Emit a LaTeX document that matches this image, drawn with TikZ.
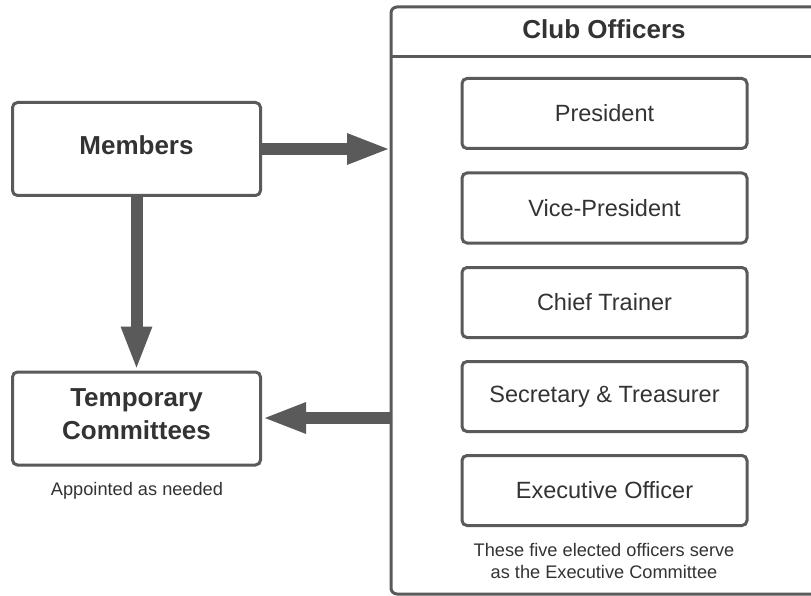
\documentclass[tikz,border=0pt]{standalone}
\usepackage{fontspec}
\setmainfont{Liberation Sans}
\usetikzlibrary{arrows.meta}
\definecolor{linegray}{HTML}{5A5A5A}
\definecolor{txt}{HTML}{333333}
\tikzset{
  box/.style={draw=linegray, line width=3pt, rounded corners=5pt, fill=white, inner sep=0pt, text=txt},
  officer/.style={box, minimum width=285pt, minimum height=70pt, font=\fontsize{23.5}{28}\selectfont},
  sidebox/.style={box, minimum width=248pt, minimum height=93pt},
  sidetext/.style={text=txt, inner sep=0pt, font=\fontsize{26}{33}\selectfont\bfseries, align=center},
  note/.style={text=txt, font=\fontsize{18.2}{22}\selectfont, align=center, inner sep=0pt},
  bigarrow/.style={draw=linegray, line width=12pt, -{Triangle[length=44pt,width=28pt]}, shorten >=0pt},
}
\begin{document}
\begin{tikzpicture}[x=1pt,y=-1pt]
\useasboundingbox (0,0) rectangle (811,596);
\fill[white] (0,0) rectangle (811,596);
% container
\begin{scope}
\clip (0,0) rectangle (811,596);
\draw[linegray, line width=3pt, rounded corners=6pt] (391,7) rectangle (840,594);
\draw[linegray, line width=3pt] (391,57) -- (840,57);
\end{scope}
\node[text=txt, font=\fontsize{26}{30}\selectfont\bfseries] (title) at (604,29) {Club Officers};
\coordinate (cleft1) at (391,149);
\coordinate (cleft2) at (392,418);
% officers
\node[officer] (pres) at (604.5,113.5) {President};
\node[officer] (vp) at (604.5,208) {Vice-President};
\node[officer] (ct) at (604.5,302.5) {Chief Trainer};
\node[officer] (sec) at (604.5,396.5) {Secretary \& Treasurer};
\node[officer] (exec) at (604.5,490.5) {Executive Officer};
\node[note] (cap) at (604,561) {These five elected officers serve\\as the Executive Committee};
% side boxes
\node[sidebox] (mem) at (136.5,149) {};
\node[sidetext] (memtext) at (136.5,145) {Members};
\node[sidebox] (temp) at (136.5,418.5) {};
\node[sidetext] (temptext) at (136.5,414) {Temporary\\Committees};
\node[note] (appt) at (137,491) {Appointed as needed};
% arrows
\draw[bigarrow] (mem.east |- cleft1) -- (cleft1);
\draw[bigarrow] (mem.south) -- (temp.north);
\draw[bigarrow] (cleft2) -- (temp.east |- cleft2);
\end{tikzpicture}
\end{document}
